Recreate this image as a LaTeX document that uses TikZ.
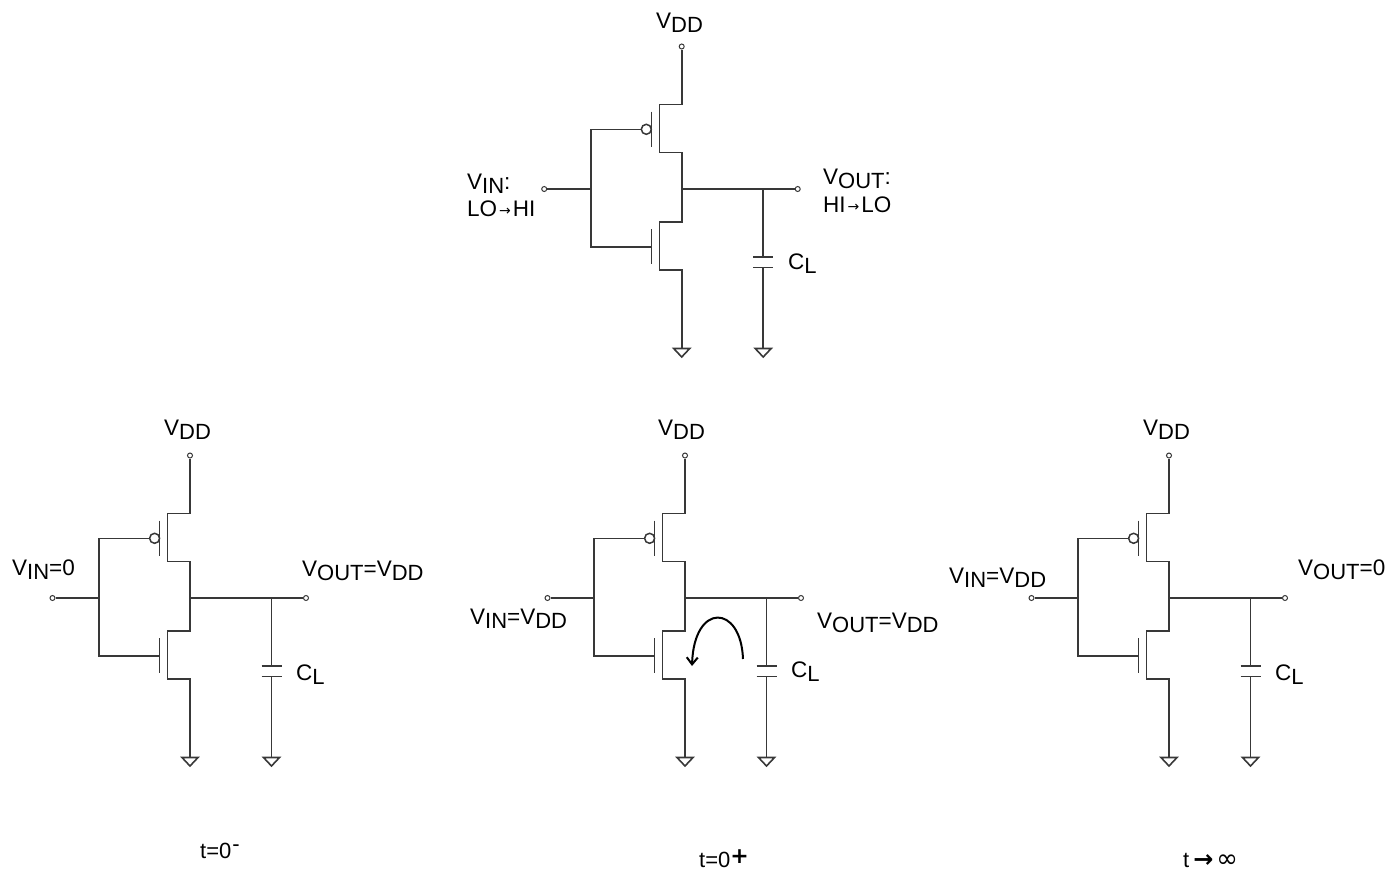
\documentclass[tikz,border=0pt]{standalone}
\usepackage{fontspec}
\setmainfont{Liberation Sans}
\newfontfamily\symfont{DejaVu Sans}
\usetikzlibrary{arrows.meta}
\newcommand{\lowtxt}[1]{\raisebox{-4.5pt}{\fontsize{22}{22}\selectfont #1}}
\newcommand{\smallarrow}{\kern2pt\raisebox{1pt}{\symfont\fontsize{14}{14}\selectfont →}\kern2pt}
\tikzset{
  wire/.style={line width=1.6pt, black!78},
  pin/.style={circle, draw=black!78, line width=1pt, fill=white, inner sep=0pt, minimum size=5pt},
  bubble/.style={circle, draw=black!78, line width=1.5pt, fill=white, inner sep=0pt, minimum size=10pt},
  lab/.style={anchor=base west, inner sep=0pt, font=\fontsize{22.5}{22.5}\selectfont},
  timelab/.style={anchor=base west, inner sep=0pt, font=\fontsize{22}{22}\selectfont},
  loop/.style={line width=2pt, black, -{Straight Barb[length=7pt,width=11pt]}},
  inv/.pic={
    \coordinate (-mid) at (0,0);
    \node[pin] (-vdd) at (0,-142.5) {};
    \node[pin] (-in) at (-137.5,0) {};
    \node[pin] (-out) at (116,0) {};
    \coordinate (-jn) at (-91,0);
    \coordinate (-cn) at (81.5,0);
    \coordinate (-pg) at (-91,-59.7);
    \coordinate (-ng) at (-91,58);
    \node[bubble] (-bub) at (-35.4,-59.7) {};
    % PMOS
    \coordinate (-ps) at (0,-84.5);
    \coordinate (-pc1) at (-22.4,-84.5);
    \coordinate (-pc2) at (-22.4,-36.5);
    \coordinate (-pd) at (0,-36.5);
    \coordinate (-pb1) at (-30.4,-77.3);
    \coordinate (-pb2) at (-30.4,-42.3);
    \draw[wire] (-vdd) -- (-ps) -- (-pc1) -- (-pc2) -- (-pd) -- (-mid);
    \draw[wire] (-pb1) -- (-pb2);
    % NMOS
    \coordinate (-nd) at (0,32.7);
    \coordinate (-nc1) at (-22.4,32.7);
    \coordinate (-nc2) at (-22.4,81);
    \coordinate (-ns) at (0,81);
    \coordinate (-nb1) at (-30.4,40.3);
    \coordinate (-nb2) at (-30.4,75.3);
    \coordinate (-ngb) at (-30.4,58);
    \coordinate (-gnd) at (0,159.5);
    \draw[wire] (-mid) -- (-nd) -- (-nc1) -- (-nc2) -- (-ns) -- (-gnd);
    \draw[wire] (-nb1) -- (-nb2);
    % gates
    \draw[wire] (-bub) -- (-pg) -- (-ng) -- (-ngb);
    \draw[wire] (-in) -- (-jn);
    % output and load
    \draw[wire] (-mid) -- (-out);
    \coordinate (-cp1) at (81.5,67.7);
    \coordinate (-cp2) at (81.5,78.3);
    \coordinate (-cgnd) at (81.5,159.5);
    \draw[wire] (-cn) -- (-cp1);
    \draw[wire] (-cp2) -- (-cgnd);
    \draw[wire] (71.5,67.7) -- (91.5,67.7);
    \draw[wire] (71.5,78.3) -- (91.5,78.3);
    % grounds
    \draw[wire] (-8,159.5) -- (8,159.5) -- (0,168) -- cycle;
    \draw[wire] (73.5,159.5) -- (89.5,159.5) -- (81.5,168) -- cycle;
  }
}
\begin{document}
\begin{tikzpicture}[x=1pt,y=-1pt]
\useasboundingbox (0,0) rectangle (1400,871);
\pic (top) at (681.7,189) {inv};
\pic (lft) at (190,598) {inv};
\pic (ctr) at (685,598) {inv};
\pic (rgt) at (1169,598) {inv};
% top labels
\node[lab] (t1) at (656,28) {V\lowtxt{DD}};
\node[lab] (t2) at (467,189) {V\lowtxt{IN}:};
\node[lab] (t3) at (467,216) {LO\smallarrow HI};
\node[lab] (t4) at (823,184) {V\lowtxt{OUT}:};
\node[lab] (t5) at (823,212.5) {HI\smallarrow LO};
\node[lab] (t6) at (788,269) {C\lowtxt{L}};
% left labels
\node[lab] (l1) at (164,435) {V\lowtxt{DD}};
\node[lab] (l2) at (12,575) {V\lowtxt{IN}=0};
\node[lab] (l3) at (302,576) {V\lowtxt{OUT}=V\lowtxt{DD}};
\node[lab] (l4) at (296,680) {C\lowtxt{L}};
\node[timelab] (l5) at (200,858) {t=0\kern1pt\raisebox{7pt}{-}};
% centre labels
\node[lab] (c1) at (658,435) {V\lowtxt{DD}};
\node[lab] (c2) at (470,624) {V\lowtxt{IN}=V\lowtxt{DD}};
\node[lab] (c3) at (817,628) {V\lowtxt{OUT}=V\lowtxt{DD}};
\node[lab] (c4) at (791,677) {C\lowtxt{L}};
\node[timelab] (c5) at (699,867) {t=0\raisebox{4pt}{\symfont\bfseries +}};
% right labels
\node[lab] (r1) at (1143,435) {V\lowtxt{DD}};
\node[lab] (r2) at (949,583) {V\lowtxt{IN}=V\lowtxt{DD}};
\node[lab] (r3) at (1298,575) {V\lowtxt{OUT}=0};
\node[lab] (r4) at (1275,680) {C\lowtxt{L}};
\node[timelab] (r5) at (1183,867) {t\kern4pt{\symfont\fontsize{24}{24}\selectfont\bfseries →}\kern3pt{\symfont\fontsize{26}{26}\selectfont ∞}};
% discharge loop
\coordinate (a1) at (743,659);
\coordinate (a2) at (692,666);
\draw[loop] (a1) .. controls (741,604) and (694,602) .. (a2);
\end{tikzpicture}
\end{document}
